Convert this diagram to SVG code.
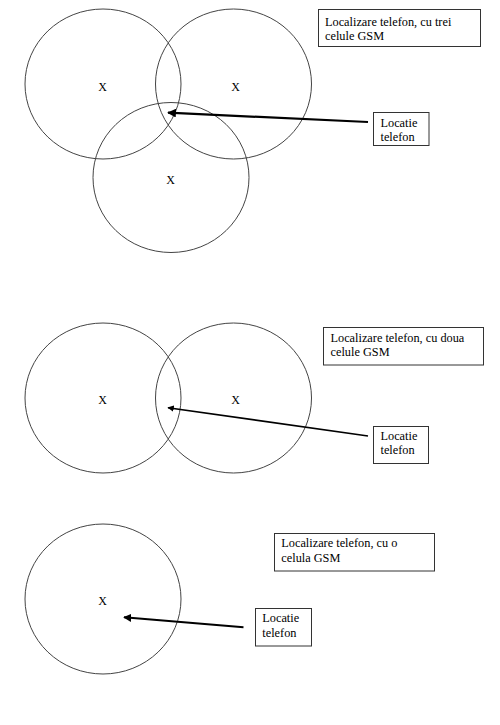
<svg xmlns="http://www.w3.org/2000/svg" width="500" height="725" viewBox="0 0 500 725">
<style>
.cell{fill:none;stroke:#444;stroke-width:1}
.box{fill:#fff;stroke:#333;stroke-width:1}
.t{font-family:'Liberation Serif','DejaVu Serif','Times New Roman',serif;font-size:12.3px;fill:#000}
.x{font-family:'Liberation Serif','DejaVu Serif','Times New Roman',serif;font-size:12px;fill:#000;text-anchor:middle}
.arr{stroke:#000;fill:none;marker-end:url(#ah)}
</style>
<defs>
<marker id="ah" viewBox="0 0 10 10" refX="9" refY="5" markerWidth="4" markerHeight="4" orient="auto" markerUnits="strokeWidth">
<path d="M0,0 L10,5 L0,10 z" fill="#000"/>
</marker>
</defs>
<rect width="500" height="725" fill="#fff"/>
<g id="cell1a"><ellipse class="cell" cx="103" cy="84" rx="78" ry="75"/><text class="x" x="102.5" y="91">X</text></g>
<g id="cell1b"><ellipse class="cell" cx="233.5" cy="84" rx="78" ry="75"/><text class="x" x="235.5" y="91">X</text></g>
<g id="cell1c"><ellipse class="cell" cx="171" cy="177.5" rx="78" ry="75"/><text class="x" x="170.5" y="184">X</text></g>
<g id="title1"><rect class="box" x="318.5" y="9.5" width="162" height="37"/><text class="t" x="325" y="25.5">Localizare telefon, cu trei</text><text class="t" x="325" y="40">celule GSM</text></g>
<g id="loc1"><rect class="box" x="373.5" y="112.5" width="55.5" height="33"/><text class="t" x="380.5" y="127">Locatie</text><text class="t" x="380.5" y="141.3">telefon</text></g>

<g id="cell2a"><ellipse class="cell" cx="103" cy="398" rx="78" ry="75"/><text class="x" x="102.5" y="403.5">X</text></g>
<g id="cell2b"><ellipse class="cell" cx="233.5" cy="398" rx="78" ry="75"/><text class="x" x="235.5" y="403.5">X</text></g>
<g id="title2"><rect class="box" x="323.5" y="327.5" width="160" height="37.5"/><text class="t" x="330.5" y="342">Localizare telefon, cu doua</text><text class="t" x="330.5" y="356.3">celule GSM</text></g>
<g id="loc2"><rect class="box" x="373.5" y="426.5" width="55" height="37"/><text class="t" x="380.5" y="440">Locatie</text><text class="t" x="380.5" y="454.3">telefon</text></g>

<g id="cell3"><ellipse class="cell" cx="103" cy="599" rx="78" ry="75"/><text class="x" x="102.5" y="605">X</text></g>
<g id="title3"><rect class="box" x="274.5" y="533.5" width="160" height="37.5"/><text class="t" x="281.3" y="547.3">Localizare telefon, cu o</text><text class="t" x="281.3" y="562">celula GSM</text></g>
<g id="loc3"><rect class="box" x="255.5" y="608.5" width="56" height="37.5"/><text class="t" x="262.3" y="622.3">Locatie</text><text class="t" x="262.3" y="637.3">telefon</text></g>

<g id="connectors">
<line class="arr" x1="368" y1="122" x2="168" y2="112.7" stroke-width="2.2"/>
<line class="arr" x1="368" y1="436" x2="168" y2="407.7" stroke-width="1.6"/>
<line class="arr" x1="243.5" y1="627.3" x2="124" y2="617.3" stroke-width="2"/>
</g>
</svg>
